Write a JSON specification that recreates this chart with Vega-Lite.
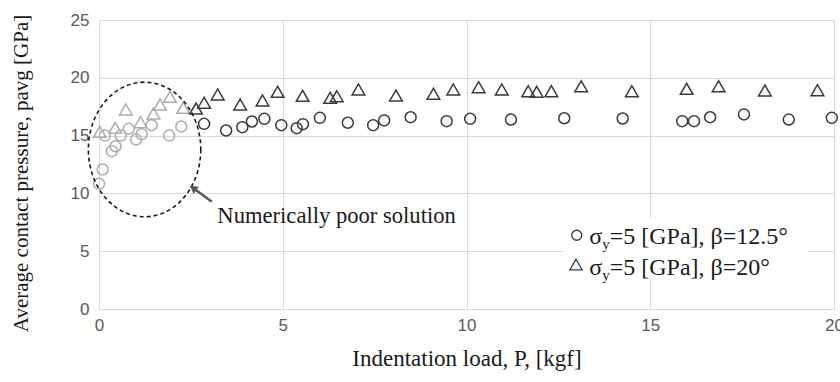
{
  "$schema": "https://vega.github.io/schema/vega-lite/v6.json",
  "width": 735,
  "height": 289,
  "autosize": {"type": "none"},
  "padding": {"left": 99, "top": 20, "right": 6, "bottom": 73},
  "background": "white",
  "config": {"view": {"stroke": null}, "font": "Liberation Serif"},
  "datasets": {
    "points": [
      {"x": 0.0, "y": 10.83, "s": "c", "q": "poor"},
      {"x": 0.10, "y": 12.07, "s": "c", "q": "poor"},
      {"x": 0.16, "y": 15.0, "s": "c", "q": "poor"},
      {"x": 0.35, "y": 13.65, "s": "c", "q": "poor"},
      {"x": 0.45, "y": 14.08, "s": "c", "q": "poor"},
      {"x": 0.59, "y": 15.0, "s": "c", "q": "poor"},
      {"x": 0.81, "y": 15.59, "s": "c", "q": "poor"},
      {"x": 1.01, "y": 14.66, "s": "c", "q": "poor"},
      {"x": 1.16, "y": 15.12, "s": "c", "q": "poor"},
      {"x": 1.43, "y": 15.9, "s": "c", "q": "poor"},
      {"x": 1.91, "y": 15.0, "s": "c", "q": "poor"},
      {"x": 2.24, "y": 15.79, "s": "c", "q": "poor"},
      {"x": 2.86, "y": 16.02, "s": "c", "q": "good"},
      {"x": 3.46, "y": 15.44, "s": "c", "q": "good"},
      {"x": 3.90, "y": 15.73, "s": "c", "q": "good"},
      {"x": 4.16, "y": 16.22, "s": "c", "q": "good"},
      {"x": 4.50, "y": 16.45, "s": "c", "q": "good"},
      {"x": 4.96, "y": 15.9, "s": "c", "q": "good"},
      {"x": 5.38, "y": 15.64, "s": "c", "q": "good"},
      {"x": 5.55, "y": 15.99, "s": "c", "q": "good"},
      {"x": 6.01, "y": 16.54, "s": "c", "q": "good"},
      {"x": 6.77, "y": 16.11, "s": "c", "q": "good"},
      {"x": 7.46, "y": 15.9, "s": "c", "q": "good"},
      {"x": 7.76, "y": 16.31, "s": "c", "q": "good"},
      {"x": 8.48, "y": 16.59, "s": "c", "q": "good"},
      {"x": 9.46, "y": 16.25, "s": "c", "q": "good"},
      {"x": 10.10, "y": 16.45, "s": "c", "q": "good"},
      {"x": 11.21, "y": 16.39, "s": "c", "q": "good"},
      {"x": 12.66, "y": 16.5, "s": "c", "q": "good"},
      {"x": 14.25, "y": 16.48, "s": "c", "q": "good"},
      {"x": 15.87, "y": 16.25, "s": "c", "q": "good"},
      {"x": 16.19, "y": 16.25, "s": "c", "q": "good"},
      {"x": 16.63, "y": 16.59, "s": "c", "q": "good"},
      {"x": 17.55, "y": 16.83, "s": "c", "q": "good"},
      {"x": 18.77, "y": 16.39, "s": "c", "q": "good"},
      {"x": 19.94, "y": 16.54, "s": "c", "q": "good"},
      {"x": 0.02, "y": 15.33, "s": "t", "q": "poor"},
      {"x": 0.44, "y": 15.67, "s": "t", "q": "poor"},
      {"x": 0.73, "y": 17.26, "s": "t", "q": "poor"},
      {"x": 1.13, "y": 16.16, "s": "t", "q": "poor"},
      {"x": 1.48, "y": 16.91, "s": "t", "q": "poor"},
      {"x": 1.66, "y": 17.69, "s": "t", "q": "poor"},
      {"x": 1.93, "y": 18.36, "s": "t", "q": "poor"},
      {"x": 2.29, "y": 17.4, "s": "t", "q": "poor"},
      {"x": 2.64, "y": 17.34, "s": "t", "q": "good"},
      {"x": 2.86, "y": 17.84, "s": "t", "q": "good"},
      {"x": 3.23, "y": 18.56, "s": "t", "q": "good"},
      {"x": 3.84, "y": 17.69, "s": "t", "q": "good"},
      {"x": 4.45, "y": 18.04, "s": "t", "q": "good"},
      {"x": 4.86, "y": 18.79, "s": "t", "q": "good"},
      {"x": 5.54, "y": 18.44, "s": "t", "q": "good"},
      {"x": 6.29, "y": 18.27, "s": "t", "q": "good"},
      {"x": 6.47, "y": 18.41, "s": "t", "q": "good"},
      {"x": 7.06, "y": 18.99, "s": "t", "q": "good"},
      {"x": 8.08, "y": 18.47, "s": "t", "q": "good"},
      {"x": 9.1, "y": 18.62, "s": "t", "q": "good"},
      {"x": 9.64, "y": 18.99, "s": "t", "q": "good"},
      {"x": 10.33, "y": 19.19, "s": "t", "q": "good"},
      {"x": 10.96, "y": 18.99, "s": "t", "q": "good"},
      {"x": 11.68, "y": 18.84, "s": "t", "q": "good"},
      {"x": 11.91, "y": 18.79, "s": "t", "q": "good"},
      {"x": 12.31, "y": 18.84, "s": "t", "q": "good"},
      {"x": 13.12, "y": 19.27, "s": "t", "q": "good"},
      {"x": 14.5, "y": 18.84, "s": "t", "q": "good"},
      {"x": 15.99, "y": 19.05, "s": "t", "q": "good"},
      {"x": 16.86, "y": 19.27, "s": "t", "q": "good"},
      {"x": 18.12, "y": 18.9, "s": "t", "q": "good"},
      {"x": 19.55, "y": 18.93, "s": "t", "q": "good"}
    ],
    "box": [{"x": 12.63, "x2": 19.27, "y": 2.81, "y2": 7.9}],
    "ellipse": [{"x": 1.24, "y": 13.8}],
    "arrow": [{"x": 3.07, "y": 9.27, "x2": 2.49, "y2": 10.64}],
    "head": [{"x": 2.56, "y": 10.46}],
    "note": [{"x": 3.22, "y": 7.46, "text": "Numerically poor solution"}],
    "legsym": [{"x": 13.0, "y": 6.38, "s": "c"}, {"x": 12.98, "y": 3.85, "s": "t"}],
    "legtext": [
      {"x": 13.34, "y": 5.58, "rest": "=5 [GPa], β=12.5°"},
      {"x": 13.34, "y": 2.98, "rest": "=5 [GPa], β=20°"}
    ]
  },
  "encoding": {
    "x": {
      "field": "x",
      "type": "quantitative",
      "scale": {"domain": [0, 20], "nice": false, "zero": false},
      "title": "Indentation load, P, [kgf]",
      "axis": {
        "values": [0, 5, 10, 15, 20],
        "grid": true,
        "gridColor": "#d9d9d9",
        "gridWidth": 1,
        "domain": false,
        "ticks": false,
        "labelFlush": false,
        "labelFont": "Liberation Sans",
        "labelFontSize": 17,
        "labelColor": "#595959",
        "labelPadding": 8,
        "titleFont": "Liberation Serif",
        "titleFontSize": 23,
        "titleFontWeight": "normal",
        "titleColor": "#1a1a1a",
        "titlePadding": 14
      }
    },
    "y": {
      "field": "y",
      "type": "quantitative",
      "scale": {"domain": [0, 25], "nice": false, "zero": false},
      "title": "Average contact pressure, pavg [GPa]",
      "axis": {
        "values": [0, 5, 10, 15, 20, 25],
        "grid": true,
        "gridColor": "#d9d9d9",
        "gridWidth": 1,
        "domain": false,
        "ticks": false,
        "labelFont": "Liberation Sans",
        "labelFontSize": 17,
        "labelColor": "#595959",
        "labelPadding": 10,
        "titleFont": "Liberation Serif",
        "titleFontSize": 21,
        "titleFontWeight": "normal",
        "titleColor": "#1a1a1a",
        "titlePadding": 39,
        "titleY": 153
      }
    }
  },
  "layer": [
    {
      "data": {"name": "box"},
      "mark": {"type": "rect", "fill": "white"},
      "encoding": {"x2": {"field": "x2"}, "y2": {"field": "y2"}}
    },
    {
      "data": {"name": "points"},
      "transform": [{"filter": "datum.s == 'c'"}],
      "mark": {"type": "point", "shape": "circle", "filled": false, "size": 120, "strokeWidth": 1.5, "opacity": 1},
      "encoding": {
        "color": {"field": "q", "type": "nominal", "scale": {"domain": ["poor", "good"], "range": ["#ababab", "#3a3a3a"]}, "legend": null}
      }
    },
    {
      "data": {"name": "points"},
      "transform": [{"filter": "datum.s == 't'"}],
      "mark": {"type": "point", "shape": "triangle-up", "filled": false, "size": 160, "strokeWidth": 1.5, "opacity": 1},
      "encoding": {
        "color": {"field": "q", "type": "nominal", "scale": {"domain": ["poor", "good"], "range": ["#ababab", "#3a3a3a"]}, "legend": null}
      }
    },
    {
      "data": {"name": "ellipse"},
      "mark": {
        "type": "point",
        "shape": "M0.835,0C0.835,0.5523,0.4612,1,0,1C-0.4612,1,-0.835,0.5523,-0.835,0C-0.835,-0.5523,-0.4612,-1,0,-1C0.4612,-1,0.835,-0.5523,0.835,0Z",
        "size": 18117,
        "filled": false,
        "stroke": "#1a1a1a",
        "strokeWidth": 1.6,
        "strokeDash": [4, 3],
        "opacity": 1
      }
    },
    {
      "data": {"name": "arrow"},
      "mark": {"type": "rule", "stroke": "#595959", "strokeWidth": 2.5},
      "encoding": {"x2": {"field": "x2"}, "y2": {"field": "y2"}}
    },
    {
      "data": {"name": "head"},
      "mark": {"type": "point", "shape": "triangle-up", "filled": true, "size": 80, "angle": 307, "color": "#595959", "opacity": 1}
    },
    {
      "data": {"name": "note"},
      "mark": {"type": "text", "align": "left", "baseline": "alphabetic", "fontSize": 22.6, "font": "Liberation Serif", "color": "#1a1a1a"},
      "encoding": {"text": {"field": "text"}}
    },
    {
      "data": {"name": "legsym"},
      "transform": [{"filter": "datum.s == 'c'"}],
      "mark": {"type": "point", "shape": "circle", "filled": false, "size": 100, "strokeWidth": 1.3, "color": "#3a3a3a", "opacity": 1}
    },
    {
      "data": {"name": "legsym"},
      "transform": [{"filter": "datum.s == 't'"}],
      "mark": {"type": "point", "shape": "triangle-up", "filled": false, "size": 150, "strokeWidth": 1.3, "color": "#3a3a3a", "opacity": 1}
    },
    {
      "data": {"name": "legtext"},
      "mark": {"type": "text", "text": "σ", "align": "left", "baseline": "alphabetic", "fontSize": 24, "font": "Liberation Serif", "color": "#1a1a1a"}
    },
    {
      "data": {"name": "legtext"},
      "mark": {"type": "text", "text": "y", "align": "left", "baseline": "alphabetic", "fontSize": 15, "dx": 13, "dy": 5, "font": "Liberation Serif", "color": "#1a1a1a"}
    },
    {
      "data": {"name": "legtext"},
      "mark": {"type": "text", "align": "left", "baseline": "alphabetic", "fontSize": 24, "dx": 20.5, "font": "Liberation Serif", "color": "#1a1a1a"},
      "encoding": {"text": {"field": "rest"}}
    }
  ]
}
